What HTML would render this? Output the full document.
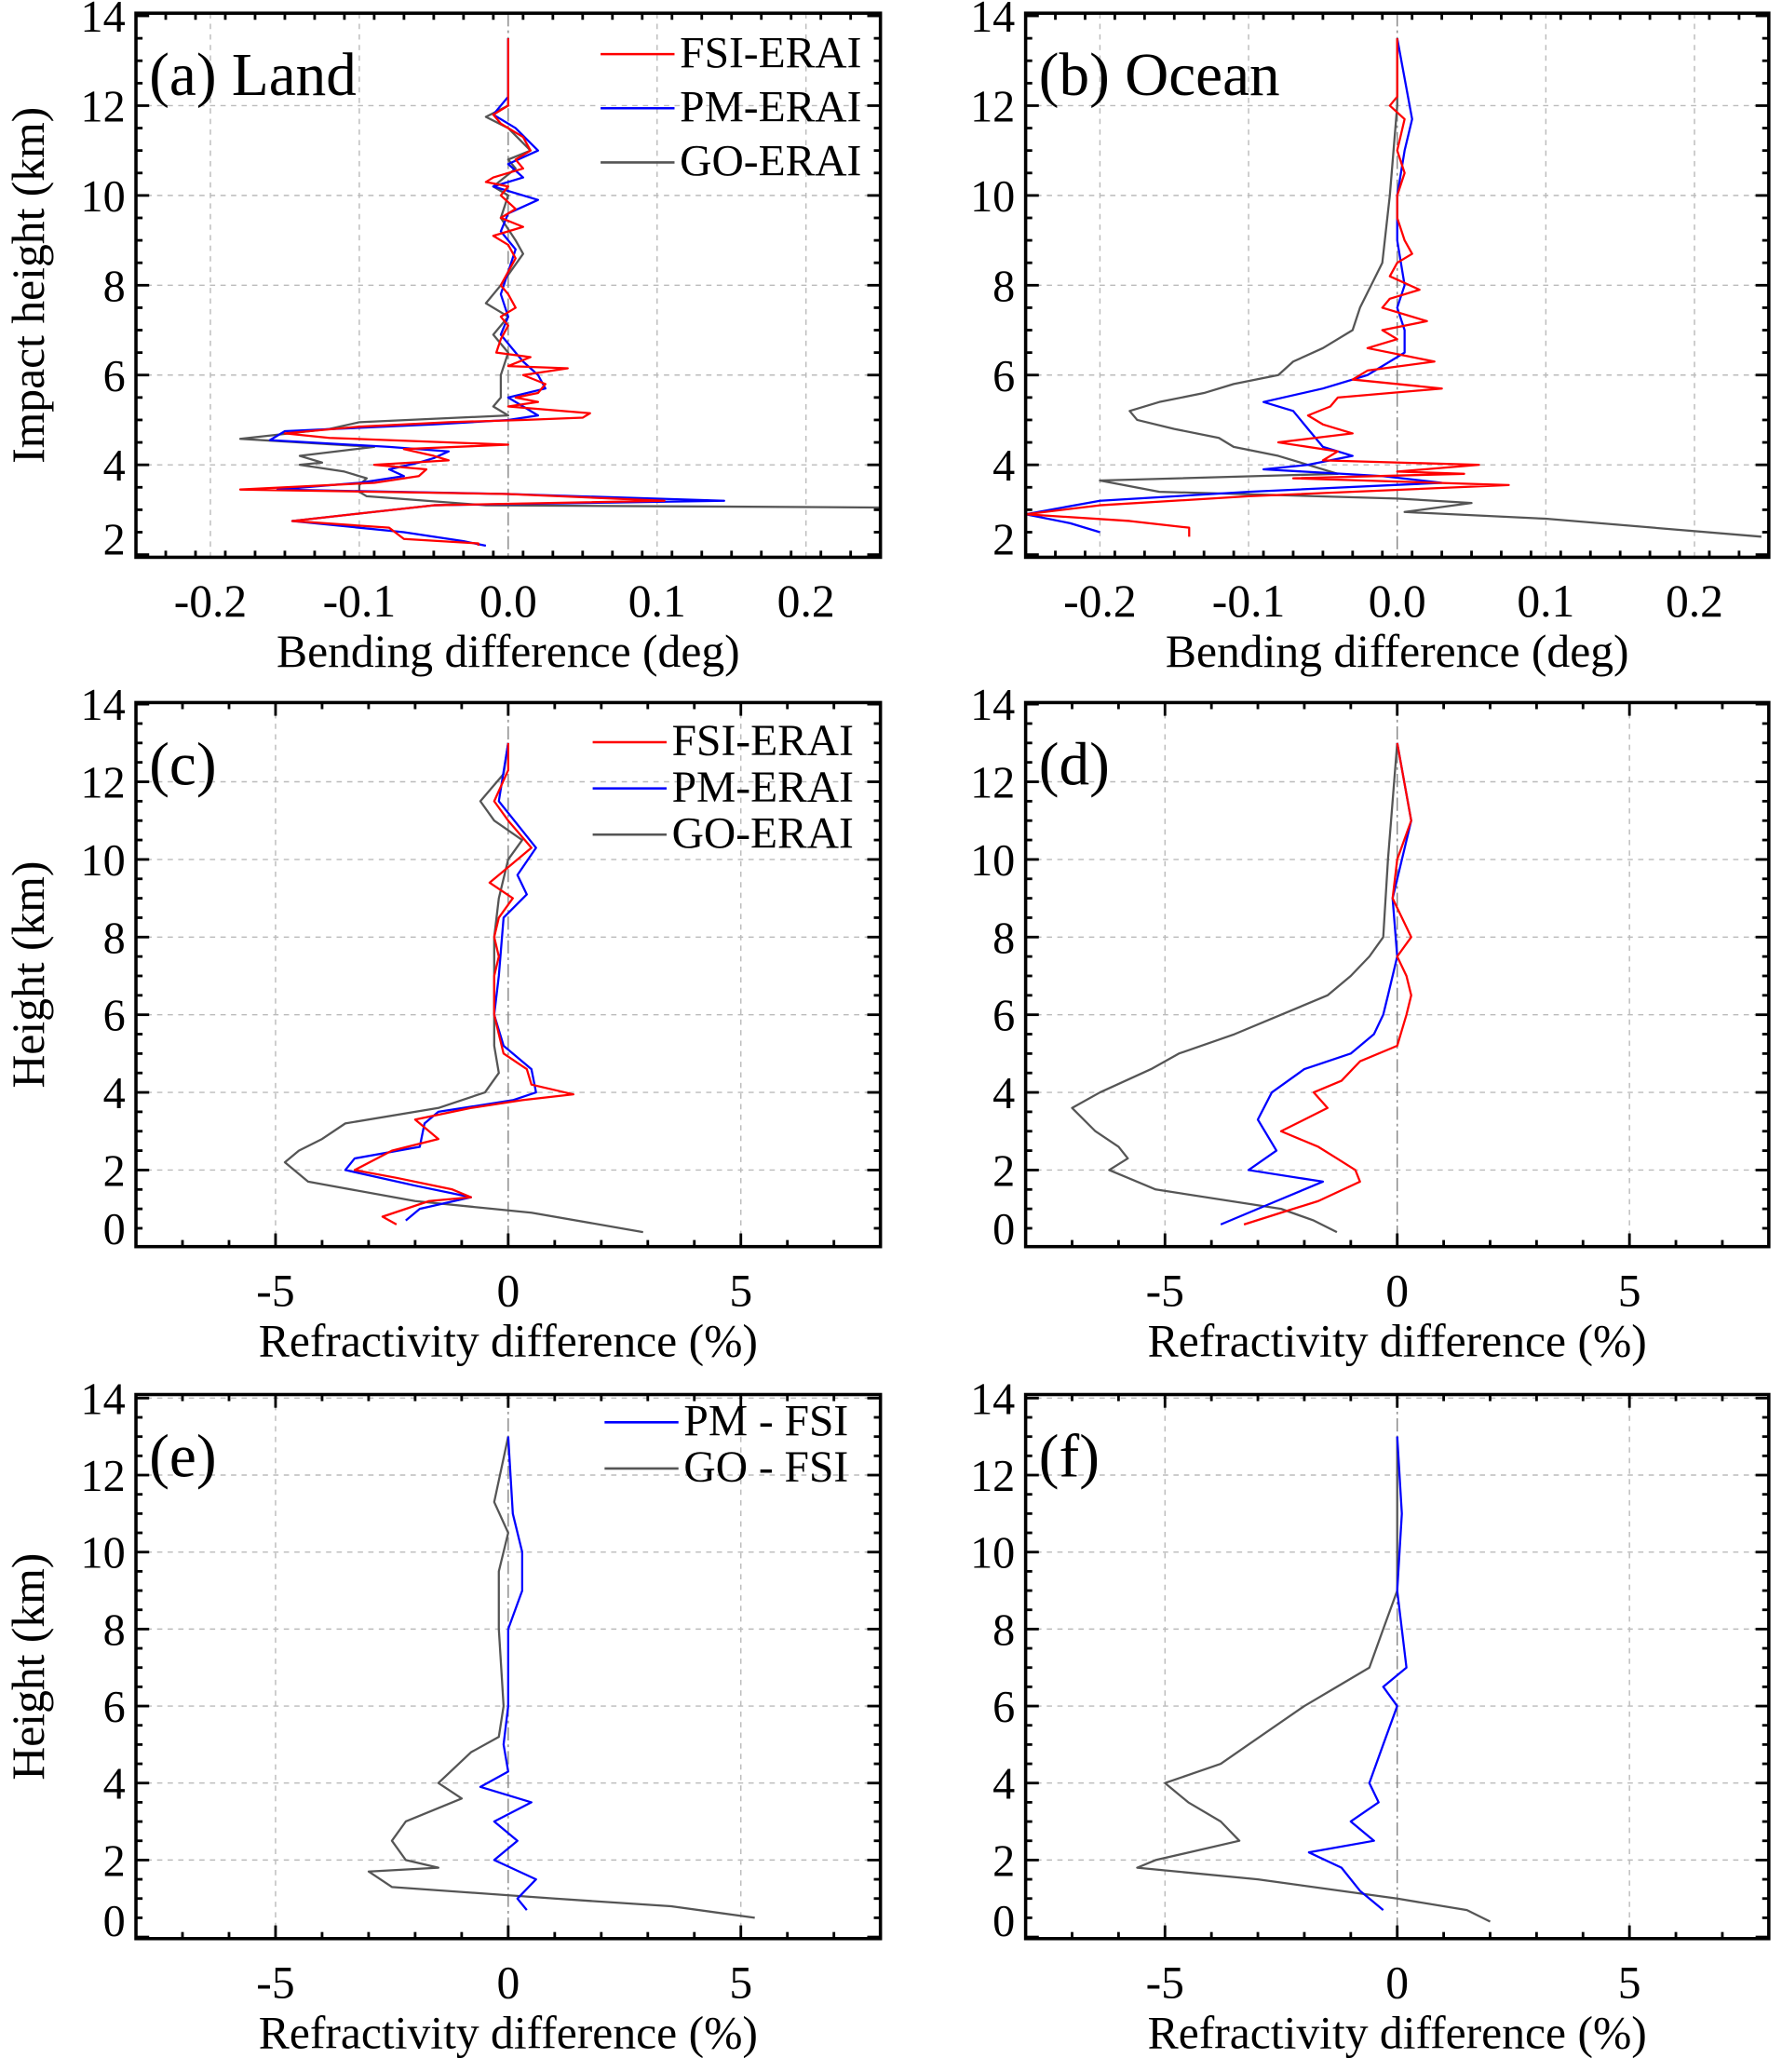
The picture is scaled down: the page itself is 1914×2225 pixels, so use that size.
<!DOCTYPE html>
<html><head><meta charset="utf-8"><style>
html,body{margin:0;padding:0;background:#fff;}
svg{display:block;font-family:"Liberation Serif",serif;}
</style></head><body>
<svg id="fig" width="1914" height="2225" viewBox="0 0 1350 1569" preserveAspectRatio="none" xmlns="http://www.w3.org/2000/svg"></svg>
<script>
// ---------- data ----------
const aFsiH=[13.5,12.3,12.0,11.8,11.6,11.3,11.0,10.8,10.6,10.4,10.3,10.2,10.0,9.7,9.5,9.3,9.1,8.9,8.6,8.3,8.0,7.8,7.5,7.3,7.1,6.8,6.5,6.4,6.2,6.15,6.0,5.8,5.6,5.5,5.4,5.3,5.15,5.05,5.0,4.95,4.85,4.7,4.6,4.45,4.35,4.2,4.1,4.0,3.9,3.75,3.6,3.45,3.35,3.2,3.1,2.75,2.6,2.35,2.25,2.2];
const aFsiV=[0,0,0,-0.01,-0.005,0.01,0.015,0.005,0.01,-0.01,-0.015,0,-0.005,0.005,-0.005,0.01,-0.01,0,0.005,0,-0.005,0,0.005,-0.005,0,-0.005,-0.008,0.015,0,0.04,0.01,0.025,0.02,0.005,0.02,0,0.055,0.05,0.01,-0.04,-0.1,-0.15,-0.12,0,-0.07,-0.05,-0.04,-0.09,-0.055,-0.06,-0.09,-0.18,0,0.105,-0.05,-0.145,-0.08,-0.07,-0.02,-0.02];
const aPmH=[13.5,12.2,11.8,11.5,11.0,10.7,10.4,10.2,9.9,9.6,9.2,8.8,8.3,7.8,7.3,6.9,6.5,6.3,6.0,5.7,5.5,5.3,5.1,5.0,4.9,4.75,4.55,4.4,4.3,4.15,4.05,3.9,3.75,3.6,3.45,3.35,3.2,3.1,2.75,2.5,2.3,2.2];
const aPmV=[0,0,-0.01,0.005,0.02,0.0,0.01,-0.01,0.02,0.0,-0.005,0.005,0,-0.005,0.0,-0.005,0.005,0.01,0.02,0.025,0.0,0.01,0.02,0.0,-0.05,-0.15,-0.16,-0.08,-0.04,-0.05,-0.06,-0.08,-0.07,-0.1,-0.155,0,0.145,-0.05,-0.145,-0.07,-0.03,-0.015];
const aGoH=[13.5,12.0,11.75,11.5,11.0,10.8,10.6,10.2,10.0,9.5,9.0,8.7,8.0,7.6,7.3,6.9,6.5,6.0,5.5,5.3,5.1,4.95,4.8,4.58,4.4,4.2,4.05,4.0,3.85,3.7,3.55,3.4,3.3,3.1,3.05];
const aGoV=[0,0,-0.015,0.0,0.015,0.0,0.005,-0.01,0,-0.005,0.005,0.01,-0.005,-0.015,0.0,-0.01,0.0,-0.005,-0.005,-0.01,0.0,-0.1,-0.12,-0.18,-0.09,-0.14,-0.125,-0.14,-0.11,-0.095,-0.1,-0.1,-0.095,-0.015,0.25];

const bFsiH=[13.5,12.2,12.0,11.7,11.0,10.5,10.0,9.5,9.0,8.7,8.5,8.2,7.9,7.7,7.5,7.2,7.0,6.8,6.6,6.3,6.1,5.9,5.7,5.5,5.3,5.1,4.9,4.7,4.5,4.3,4.1,4.0,3.85,3.8,3.7,3.55,3.3,3.1,2.9,2.75,2.6,2.4];
const bFsiV=[0,0,-0.005,0.005,0,0.005,0,0,0.005,0.01,0,-0.005,0.015,-0.005,-0.01,0.02,-0.01,0,-0.02,0.025,-0.02,-0.03,0.03,-0.04,-0.045,-0.06,-0.05,-0.03,-0.08,-0.04,-0.05,0.055,0,0.045,-0.07,0.075,-0.1,-0.2,-0.25,-0.18,-0.14,-0.14];
const bPmH=[13.5,11.7,11.0,10.0,9.0,8.0,7.5,7.0,6.5,6.0,5.7,5.4,5.2,4.8,4.4,4.2,4.0,3.9,3.75,3.6,3.4,3.2,2.9,2.7,2.5];
const bPmV=[0,0.01,0.005,0,0,0.005,0,0.005,0.005,-0.02,-0.05,-0.09,-0.07,-0.06,-0.05,-0.03,-0.06,-0.09,-0.01,0.03,-0.1,-0.2,-0.25,-0.22,-0.2];
const bGoH=[13.5,12.0,10.0,8.5,7.5,7.0,6.6,6.3,6.0,5.8,5.6,5.4,5.2,5.0,4.8,4.6,4.4,4.2,4.0,3.8,3.65,3.4,3.25,3.15,2.95,2.8,2.4];
const bGoV=[0,0,-0.005,-0.01,-0.025,-0.03,-0.05,-0.07,-0.08,-0.11,-0.13,-0.16,-0.18,-0.175,-0.15,-0.12,-0.11,-0.08,-0.06,-0.04,-0.2,-0.16,0,0.05,0.005,0.1,0.245];

const cFsiH=[13,12.3,11.5,11.0,10.3,9.8,9.4,9.0,8.5,8.0,7.5,7.0,6.5,6.0,5.5,5.0,4.6,4.2,3.95,3.8,3.6,3.3,2.8,2.5,2.0,1.8,1.5,1.3,1.2,0.8,0.6];
const cFsiV=[0,0,-0.3,0,0.5,0,-0.4,0.1,-0.2,-0.3,-0.2,-0.3,-0.3,-0.3,-0.2,-0.1,0.4,0.5,1.4,0.3,-0.8,-2.0,-1.5,-2.5,-3.3,-2.4,-1.2,-0.8,-1.7,-2.7,-2.4];
const cPmH=[13,11.5,10.3,9.6,9.1,8.5,7.0,6.0,5.2,4.6,4.0,3.8,3.5,3.2,2.6,2.3,2.0,1.6,1.3,1.0,0.7];
const cPmV=[0,-0.2,0.6,0.2,0.4,-0.1,-0.2,-0.3,-0.1,0.5,0.6,0.1,-1.5,-1.8,-1.9,-3.3,-3.5,-2.0,-0.8,-1.9,-2.2];
const cGoH=[13,12.2,11.5,11.0,10.5,10,9,8,7,6,5.2,4.5,4.0,3.6,3.2,2.8,2.5,2.2,1.7,1.2,0.9,0.4];
const cGoV=[0,-0.1,-0.6,-0.3,0.3,0,-0.2,-0.3,-0.3,-0.3,-0.3,-0.2,-0.5,-1.5,-3.5,-4.0,-4.5,-4.8,-4.3,-2.0,0.5,2.9];

const dFsiH=[13,11,10,9,8,7.5,7,6.5,6,5.2,4.8,4.3,4.0,3.6,3.0,2.6,2.3,2.0,1.7,1.2,0.9,0.6];
const dFsiV=[0,0.3,0,-0.1,0.3,0,0.2,0.3,0.2,0,-0.8,-1.2,-1.8,-1.5,-2.5,-1.7,-1.3,-0.9,-0.8,-1.7,-2.5,-3.3];
const dPmH=[13,11,9,7.5,6.5,6,5.5,5,4.6,4,3.3,2.5,2.0,1.7,1.4,1.2,0.6];
const dPmV=[0,0.3,-0.1,0,-0.2,-0.3,-0.5,-1.0,-2.0,-2.7,-3.0,-2.6,-3.2,-1.6,-2.2,-2.6,-3.8];
const dGoH=[13,10,8,7.5,7.0,6.5,6,5.5,5,4.6,4.0,3.6,3.0,2.6,2.3,2.0,1.5,1.0,0.7,0.4];
const dGoV=[0,-0.2,-0.3,-0.6,-1.0,-1.5,-2.5,-3.5,-4.7,-5.3,-6.4,-7.0,-6.5,-6.0,-5.8,-6.2,-5.2,-2.5,-1.8,-1.3];

const ePmH=[13,11,10,9,8,7,6,5,4.3,3.9,3.5,3.0,2.5,2.0,1.5,1.0,0.7];
const ePmV=[0,0.1,0.3,0.3,0,0,0,-0.1,0,-0.6,0.5,-0.3,0.2,-0.3,0.6,0.2,0.4];
const eGoH=[13,11.3,10.5,9.5,8,6,5.2,4.8,4.0,3.6,3.0,2.5,2.0,1.8,1.7,1.3,1.0,0.8,0.5];
const eGoV=[0,-0.3,0,-0.2,-0.2,-0.1,-0.2,-0.8,-1.5,-1.0,-2.2,-2.5,-2.2,-1.5,-3.0,-2.5,1.0,3.5,5.3];

const fPmH=[13,11,9,7,6.5,6,5,4,3.5,3,2.5,2.2,1.8,1.2,0.9,0.7];
const fPmV=[0,0.1,0,0.2,-0.3,0,-0.3,-0.6,-0.4,-1.0,-0.5,-1.9,-1.2,-0.8,-0.5,-0.3];
const fGoH=[13,11,9,8,7,6.5,6,5,4.5,4.0,3.5,3.0,2.5,2.0,1.8,1.5,1.0,0.7,0.4];
const fGoV=[0,0,0,-0.3,-0.6,-1.3,-2.0,-3.2,-3.8,-5.0,-4.5,-3.8,-3.4,-5.2,-5.6,-3.0,0,1.5,2.0];

const bendTicks=[-0.2,-0.1,0.0,0.1,0.2];
const bendTickLabels=["-0.2","-0.1","0.0","0.1","0.2"];
const refTicks=[-5,0,5];
const refTickLabels=["-5","0","5"];
const hTicks=[2,4,6,8,10,12,14];
const hTicks0=[0,2,4,6,8,10,12,14];

// ---------- drawing ----------
const NS="http://www.w3.org/2000/svg";
const svg=document.getElementById('fig');
const RED="#ff0000",BLUE="#0000ff",GRAY="#555555";
function mk(tag,attrs,parent){const e=document.createElementNS(NS,tag);for(const k in attrs)e.setAttribute(k,attrs[k]);(parent||svg).appendChild(e);return e;}

function panel(p){
  const g=mk('g',{});
  
  
  const X=v=>p.x0+(v-p.xmin)/(p.xmax-p.xmin)*(p.x1-p.x0);
  const Y=h=>p.yRef-(h-12)*p.kpx;
  p.xt.forEach(v=>{if(v!==0){const l=mk('line',{x1:X(v),x2:X(v),y1:p.y0,y2:p.y1,stroke:'#bbb','stroke-width':1,'stroke-dasharray':'4,4'},g);}});
  p.yt.forEach(h=>{const y=Y(h);if(y>p.y0+2&&y<p.y1-2){const l=mk('line',{x1:p.x0,x2:p.x1,y1:y,y2:y,stroke:'#bbb','stroke-width':1,'stroke-dasharray':'4,4'},g);}});
  const z=mk('line',{x1:X(0),x2:X(0),y1:p.y0,y2:p.y1,stroke:'#888','stroke-width':1,'stroke-dasharray':'10,3,2,3'},g);
  
  p.series.forEach(s=>{
    const d=s.h.map((h,i)=>(i?'L':'M')+X(Math.max(p.xmin,Math.min(p.xmax,s.v[i]))).toFixed(1)+','+Y(h).toFixed(1)).join('');
    const path=mk('path',{d:d,fill:'none',stroke:s.c,'stroke-width':1.6,'stroke-linejoin':'round'},g);
    
    
  });
  const fr=mk('rect',{x:p.x0,y:p.y0,width:p.x1-p.x0,height:p.y1-p.y0,fill:'none',stroke:'#000','stroke-width':2.5},g);
  
  const step=(p.xt[1]-p.xt[0])/5;
  for(let v=p.xmin;v<=p.xmax+1e-9;v+=step){
    const major=p.xt.some(t=>Math.abs(t-v)<1e-6);const L=major?10:5;const x=X(v);
    if(x<p.x0-0.5||x>p.x1+0.5)continue;
    mk('line',{x1:x,x2:x,y1:p.y1,y2:p.y1-L,stroke:'#000','stroke-width':2},g);
    mk('line',{x1:x,x2:x,y1:p.y0,y2:p.y0+L,stroke:'#000','stroke-width':2},g);
  }
  p.xt.forEach((v,i)=>{const t=mk('text',{x:X(v),y:p.y1+45,'text-anchor':'middle','font-size':35},g);t.textContent=p.xl[i];});
  for(let h=Math.floor(p.hmin*2)/2;h<=14.5;h+=0.5){
    const y=Y(h);if(y<p.y0-0.5||y>p.y1+0.5)continue;
    const major=Math.abs(h%2)<1e-6;const L=major?10:5;
    mk('line',{x1:p.x0,x2:p.x0+L,y1:y,y2:y,stroke:'#000','stroke-width':2},g);
    mk('line',{x1:p.x1,x2:p.x1-L,y1:y,y2:y,stroke:'#000','stroke-width':2},g);
  }
  p.yt.forEach(h=>{let y=Y(h);const t=mk('text',{x:p.x0-8,y:Math.min(y+12,p.y1-2),'text-anchor':'end','font-size':34},g);t.textContent=h;});
  const xt=mk('text',{x:(p.x0+p.x1)/2,y:p.y1+83,'text-anchor':'middle','font-size':35},g);xt.textContent=p.xtitle;
  
  if(p.ytitle){const cy=(p.y0+p.y1)/2;const yt=mk('text',{x:33,y:cy,'text-anchor':'middle','font-size':35,transform:'rotate(-90 33 '+cy+')'},g);yt.textContent=p.ytitle;
  }
  const lab=mk('text',{x:p.x0+10,y:p.y0+62,'font-size':46},g);lab.textContent=p.label;
  
  if(p.legend){p.legend.forEach((s,i)=>{const y=p.legY+i*p.legDy;
    const l=mk('line',{x1:p.legX-60,x2:p.legX-4,y1:y-10,y2:y-10,stroke:s.c,'stroke-width':1.8},g);
    
    const t=mk('text',{x:p.legX,y:y,'font-size':33.5},g);t.textContent=s.label;
    });}
}
const leg3=[{c:RED,label:'FSI-ERAI'},{c:BLUE,label:'PM-ERAI'},{c:GRAY,label:'GO-ERAI'}];
const bendCommon={xmin:-0.25,xmax:0.25,xt:bendTicks,xl:bendTickLabels,y0:10,y1:422,yRef:80,kpx:34,hmin:2,yt:hTicks,xtitle:'Bending difference (deg)'};
const refCommon={xmin:-8,xmax:8,xt:refTicks,xl:refTickLabels,hmin:0,yt:hTicks0,xtitle:'Refractivity difference (%)'};
panel(Object.assign({id:'a',x0:103,x1:667,label:'(a) Land',ytitle:'Impact height (km)',legend:leg3,legX:515,legY:51,legDy:41,
  series:[{name:'go-erai',c:GRAY,h:aGoH,v:aGoV},{name:'pm-erai',c:BLUE,h:aPmH,v:aPmV},{name:'fsi-erai',c:RED,h:aFsiH,v:aFsiV}]},bendCommon));
panel(Object.assign({id:'b',x0:777,x1:1340,label:'(b) Ocean',
  series:[{name:'go-erai',c:GRAY,h:bGoH,v:bGoV},{name:'pm-erai',c:BLUE,h:bPmH,v:bPmV},{name:'fsi-erai',c:RED,h:bFsiH,v:bFsiV}]},bendCommon));
panel(Object.assign({id:'c',x0:103,x1:667,y0:532,y1:944,yRef:592,kpx:29.4,label:'(c)',ytitle:'Height (km)',legend:leg3,legX:509,legY:572,legDy:35,
  series:[{name:'go-erai',c:GRAY,h:cGoH,v:cGoV},{name:'pm-erai',c:BLUE,h:cPmH,v:cPmV},{name:'fsi-erai',c:RED,h:cFsiH,v:cFsiV}]},refCommon));
panel(Object.assign({id:'d',x0:777,x1:1340,y0:532,y1:944,yRef:592,kpx:29.4,label:'(d)',
  series:[{name:'go-erai',c:GRAY,h:dGoH,v:dGoV},{name:'pm-erai',c:BLUE,h:dPmH,v:dPmV},{name:'fsi-erai',c:RED,h:dFsiH,v:dFsiV}]},refCommon));
panel(Object.assign({id:'e',x0:103,x1:667,y0:1056,y1:1468,yRef:1117,kpx:29.15,label:'(e)',ytitle:'Height (km)',
  legend:[{c:BLUE,label:'PM - FSI'},{c:GRAY,label:'GO - FSI'}],legX:518,legY:1087,legDy:35,
  series:[{name:'go-fsi',c:GRAY,h:eGoH,v:eGoV},{name:'pm-fsi',c:BLUE,h:ePmH,v:ePmV}]},refCommon));
panel(Object.assign({id:'f',x0:777,x1:1340,y0:1056,y1:1468,yRef:1117,kpx:29.15,label:'(f)',
  series:[{name:'go-fsi',c:GRAY,h:fGoH,v:fGoV},{name:'pm-fsi',c:BLUE,h:fPmH,v:fPmV}]},refCommon));
</script>
</body></html>
